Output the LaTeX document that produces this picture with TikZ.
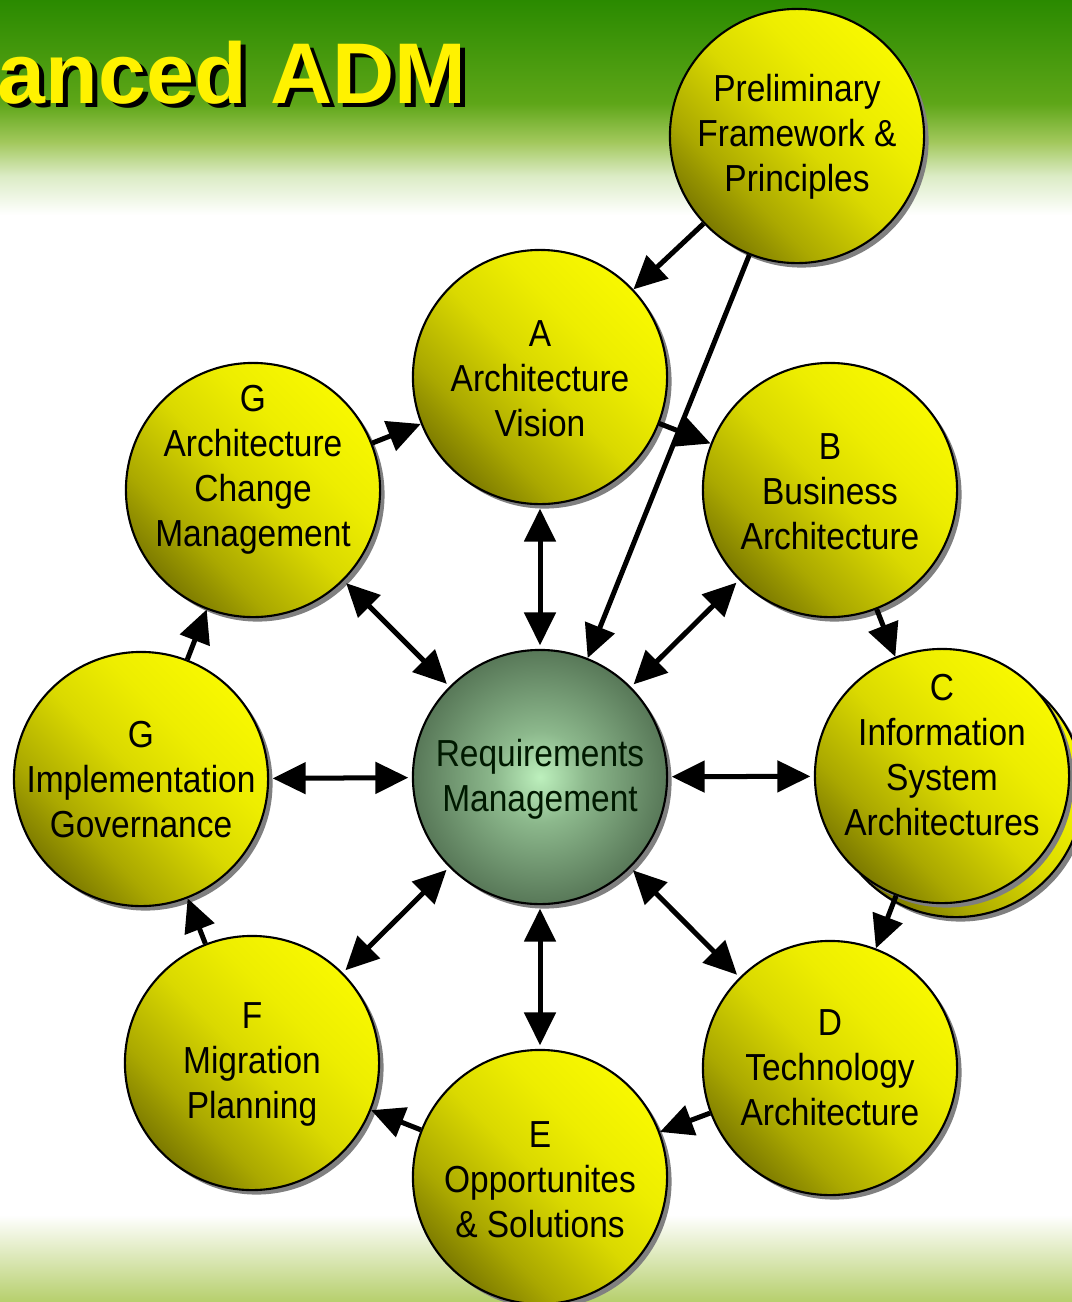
\documentclass[tikz,border=0pt]{standalone}
\usepackage{fontspec}
\setmainfont{Liberation Sans}
\newfontfamily\phasefont{Liberation Sans}[FakeStretch=0.89]
\usetikzlibrary{arrows.meta,shadows,calc}
\definecolor{banddark}{HTML}{2A8A00}
\definecolor{bandmid}{HTML}{5EA618}
\definecolor{bandlight}{HTML}{A2C85C}
\definecolor{bandpale}{HTML}{DCECC6}
\definecolor{bandfoot}{HTML}{B6CF6C}
\definecolor{phasetop}{HTML}{F8F800}
\definecolor{phasehigh}{HTML}{EDED00}
\definecolor{phasemid}{HTML}{DAD900}
\definecolor{phaselow}{HTML}{ABA900}
\definecolor{phasebot}{HTML}{7C7A00}
\definecolor{phaseshadow}{HTML}{808080}
\definecolor{reqlight}{HTML}{BDF0BD}
\definecolor{reqmid}{HTML}{8CB88C}
\definecolor{reqdark}{HTML}{587858}
\pgfdeclareverticalshading{topband}{100bp}{color(0bp)=(white); color(25bp)=(white); color(34bp)=(bandpale); color(42bp)=(bandlight); color(51bp)=(bandmid); color(75bp)=(banddark); color(100bp)=(banddark)}
\pgfdeclareverticalshading{phaseball}{100bp}{color(0bp)=(phasebot); color(25bp)=(phasebot); color(35bp)=(phaselow); color(50bp)=(phasemid); color(62bp)=(phasehigh); color(75bp)=(phasetop); color(100bp)=(phasetop)}
\pgfdeclareradialshading{reqball}{\pgfpoint{0bp}{0bp}}{color(0bp)=(reqlight); color(9bp)=(reqmid); color(25bp)=(reqdark); color(50bp)=(reqdark)}
\begin{document}
\begin{tikzpicture}[x=0.01cm, y=-0.01cm]
			\tikzstyle{phase}=[circle,draw=black,line width=0.6pt,minimum size=2.54cm,inner sep=0pt,shading=phaseball,shading angle=-45,drop shadow={shadow xshift=0.045cm,shadow yshift=-0.045cm,fill=phaseshadow,opacity=1}]
			\tikzstyle{phasetext}=[align=center,inner sep=0pt,font=\phasefont\fontsize{10.7pt}{12.8pt}\selectfont]
			\tikzstyle{titletext}=[anchor=base west,inner sep=0pt,font=\bfseries\fontsize{24.5pt}{28pt}\selectfont]
			\tikzstyle{conn}=[line width=0.05cm,-{Triangle[length=0.33cm,width=0.31cm]}]
			\tikzstyle{both}=[line width=0.05cm,{Triangle[length=0.33cm,width=0.31cm]}-{Triangle[length=0.33cm,width=0.31cm]},shorten <=1pt,shorten >=1pt]
			\useasboundingbox (0,0) rectangle (1072,1302);
			\clip (0,0) rectangle (1072,1302);
			\shade[shading=topband] (0,0) rectangle (1072,215);
			\shade[top color=white,bottom color=bandfoot] (0,1215) rectangle (1072,1302);
			\node[titletext,text=black](titlesh)at(2,107){anced ADM};
			\node[titletext,text=yellow](title)at(-3,103){anced ADM};
			
			\node[phase](P)at(797,136){};
			\node[phase](A)at(540,377){};
			\node[phase](B)at(830,490){};
			\node[phase](Cb)at(956,790){};
			\node[phase](C)at(942,776){};
			\node[phase](D)at(830,1068){};
			\node[phase](E)at(540,1177){};
			\node[phase](F)at(252,1063){};
			\node[phase](GI)at(141,779){};
			\node[phase](GC)at(253,490){};
			\node[circle,draw=black,line width=0.6pt,minimum size=2.54cm,inner sep=0pt,shading=reqball,drop shadow={shadow xshift=0.045cm,shadow yshift=-0.045cm,fill=phaseshadow,opacity=1}](R)at(540,777){};
			
			\node[phasetext](Pt)at(797,137){Preliminary\\Framework \&\\Principles};
			\node[phasetext](At)at(540,379){A\\Architecture\\Vision};
			\node[phasetext](Bt)at(830,492){B\\Business\\Architecture};
			\node[phasetext](Ct)at(942,755){C\\Information\\System\\Architectures};
			\node[phasetext](Dt)at(830,1068){D\\Technology\\Architecture};
			\node[phasetext](Et)at(540,1180){E\\Opportunites\\\& Solutions};
			\node[phasetext](Ft)at(252,1064){F\\Migration\\Planning};
			\node[phasetext](GIt)at(141,780){G\\Implementation\\Governance};
			\node[phasetext](GCt)at(253,470){G\\Architecture\\Change\\Management};
			\node[phasetext,text=black!90!green](Rt)at(540,779){Requirements\\Management};
			
			\path[conn] (P) edge (A)
			(P) edge (R)
			(A) edge (B)
			(B) edge (C)
			(C) edge (D)
			(D) edge (E)
			(E) edge (F)
			(F) edge (GI)
			(GI) edge (GC)
			(GC) edge (A);
			
			\path[both] (R) edge (A)
			(R) edge (B)
			(R) edge (C)
			(R) edge (D)
			(R) edge (E)
			(R) edge (F)
			(R) edge (GI)
			(R) edge (GC);
\end{tikzpicture}
\end{document}
